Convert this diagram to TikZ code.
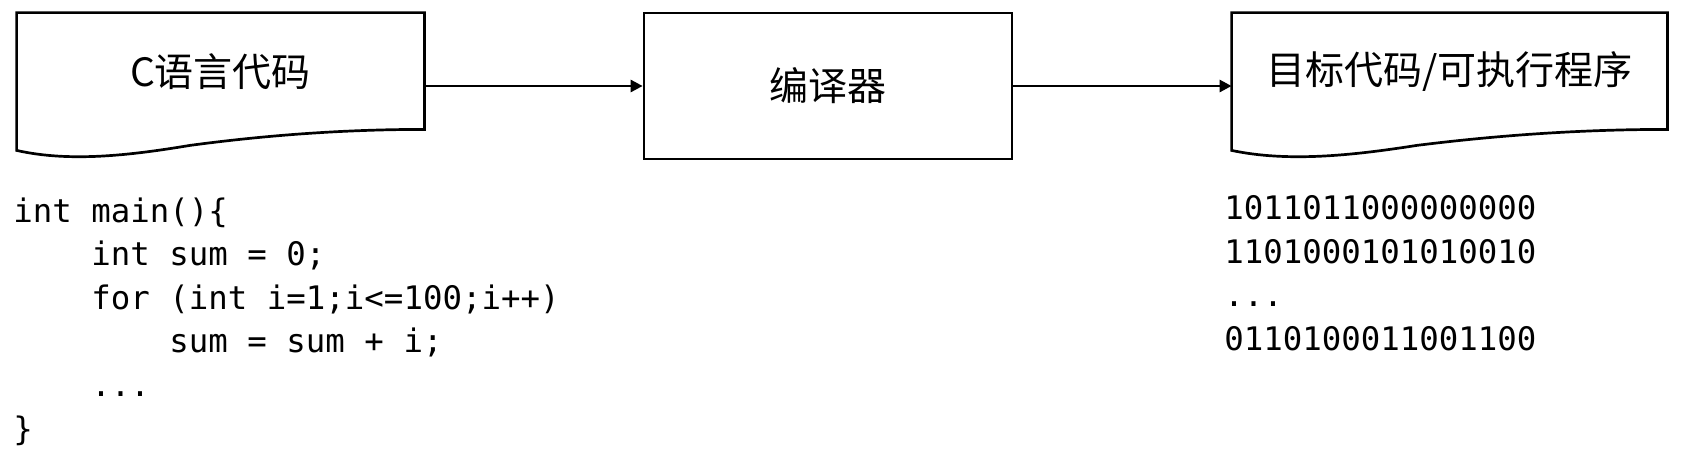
\documentclass[tikz,border=0pt]{standalone}
\usepackage{fontspec}
\usepackage{tikz}
\usetikzlibrary{calc,arrows.meta}
\newfontfamily\cjkfont{Noto Sans CJK SC}
\setmonofont{DejaVu Sans Mono}

\tikzset{
  outline/.style={line width=1.35pt, black},
  docnode/.style={rectangle, inner sep=0pt, minimum height=73pt},
  procbox/.style={rectangle, draw, outline, inner sep=0pt, minimum width=184pt, minimum height=73pt},
  title/.style={font=\cjkfont\fontsize{19.5}{23}\selectfont, inner sep=0pt},
  listing/.style={font=\ttfamily\fontsize{16.2}{21.8}\selectfont, align=left, inner sep=0pt, anchor=base west},
  flow/.style={outline, -{Triangle[length=6pt, width=6pt]}}
}

% wavy bottom of a document node
\newcommand{\docpath}[1]{%
  \draw[outline] ($(#1.south west)+(0,9)$) -- (#1.north west) -- (#1.north east)
    -- ($(#1.south east)+(0,30)$)
    .. controls ($(#1.south west)!0.769!(#1.south east)+(0,30)$)
           and ($(#1.south west)!0.572!(#1.south east)+(0,22)$)
    .. ($(#1.south west)!0.425!(#1.south east)+(0,14)$)
    .. controls ($(#1.south west)!0.278!(#1.south east)+(0,4)$)
           and ($(#1.south west)!0.130!(#1.south east)+(0,-3)$)
    .. ($(#1.south west)+(0,9)$) -- cycle;}

\begin{document}
\begin{tikzpicture}[x=0.5pt, y=0.5pt]
  \useasboundingbox (0,0) rectangle (1683,-461);
  \node (src) [docnode, minimum width=203.5pt] at (220.5,-86) {};
  \node (cc) [procbox] at (828,-86) {};
  \node (obj) [docnode, minimum width=217.5pt] at (1449.5,-86) {};
  \docpath{src}
  \docpath{obj}
  \node (srctext) [title] at ([yshift=7pt]src.center) {C语言代码};
  \node (cctext) [title] at (cc.center) {编译器};
  \node (objtext) [title] at ([yshift=7pt]obj.center) {目标代码/可执行程序};
  \node (code) [listing] at (13,-440) {int main()\{\\
~~~~int sum = 0;\\
~~~~for (int i=1;i<=100;i++)\\
~~~~~~~~sum = sum + i;\\
~~~~...\\
\}};
  \node (bin) [listing] at (1224,-350.5) {1011011000000000\\
1101000101010010\\
...\\
0110100011001100};
  \draw [flow] (src.east) -- (cc.west);
  \draw [flow] (cc.east) -- (obj.west);
\end{tikzpicture}
\end{document}
